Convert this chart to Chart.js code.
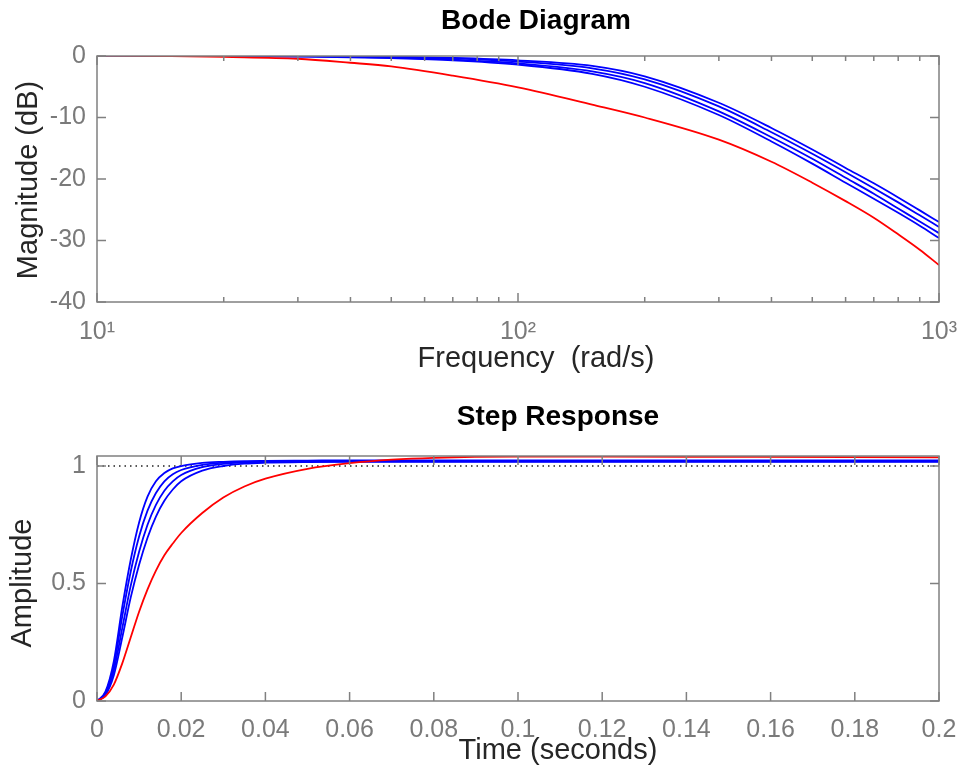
<!DOCTYPE html>
<html>
<head>
<meta charset="utf-8">
<script src="https://cdn.jsdelivr.net/npm/chart.js@4.4.1/dist/chart.umd.min.js"></script>
<style>
body { margin: 0; background: #fff; }
canvas { display: block; }
</style>
</head>
<body>
<canvas id="bodeChart" width="962" height="385"></canvas>
<canvas id="stepChart" width="962" height="385"></canvas>
<script>
'use strict';

// Bode magnitude (dB)
const freq = [10, 15, 20, 30, 40, 50, 70, 100, 150, 200, 300, 400, 500, 600, 700, 800, 900, 1000];
const magRed = [0.05, 0.0, -0.15, -0.45, -1.1, -1.7, -3.2, -5.1, -7.9, -10.0, -13.6, -17.2, -20.6, -23.6, -26.3, -29.0, -31.5, -34.0];
const magBlue1 = [0.1, 0.08, 0.05, 0.02, -0.03, -0.1, -0.3, -0.7, -1.6, -3.3, -7.6, -11.7, -15.2, -18.2, -20.7, -23.0, -25.1, -27.0];
const magBlue2 = [0.1, 0.07, 0.04, 0.0, -0.08, -0.18, -0.42, -0.9, -2.0, -3.8, -8.2, -12.4, -15.9, -18.9, -21.5, -23.8, -25.9, -27.8];
const magBlue3 = [0.1, 0.06, 0.02, -0.06, -0.15, -0.28, -0.58, -1.2, -2.5, -4.4, -9.0, -13.2, -16.7, -19.8, -22.4, -24.8, -26.9, -28.8];
const magBlue4 = [0.1, 0.05, 0.0, -0.1, -0.2, -0.35, -0.7, -1.4, -2.9, -5.0, -9.6, -13.9, -17.5, -20.6, -23.2, -25.5, -27.6, -29.6];
const freqDecades = [10, 100, 1000];
const freqDecadeLabels = ['10\u00B9', '10\u00B2', '10\u00B3'];
const freqMinor = [20, 30, 40, 50, 60, 70, 80, 90, 200, 300, 400, 500, 600, 700, 800, 900];
const magTicks = [-40, -30, -20, -10, 0];

// Step response
const time = [0, 0.002, 0.004, 0.006, 0.008, 0.01, 0.012, 0.014, 0.016, 0.018, 0.02, 0.025, 0.03, 0.035, 0.04, 0.05, 0.06, 0.07, 0.08, 0.1, 0.12, 0.15, 0.2];
const stepRed = [0, 0.02, 0.07, 0.16, 0.27, 0.38, 0.475, 0.555, 0.62, 0.67, 0.715, 0.80, 0.866, 0.913, 0.946, 0.988, 1.012, 1.027, 1.035, 1.04, 1.04, 1.039, 1.037];
const stepBlue1 = [0, 0.04, 0.17, 0.40, 0.60, 0.76, 0.87, 0.935, 0.97, 0.99, 1.0, 1.013, 1.018, 1.021, 1.022, 1.023, 1.024, 1.024, 1.024, 1.024, 1.024, 1.024, 1.024];
const stepBlue2 = [0, 0.035, 0.15, 0.36, 0.55, 0.70, 0.81, 0.885, 0.935, 0.965, 0.983, 1.005, 1.014, 1.018, 1.02, 1.021, 1.022, 1.022, 1.022, 1.022, 1.022, 1.022, 1.022];
const stepBlue3 = [0, 0.03, 0.13, 0.31, 0.49, 0.635, 0.75, 0.835, 0.895, 0.935, 0.962, 0.995, 1.009, 1.015, 1.018, 1.02, 1.02, 1.02, 1.02, 1.02, 1.02, 1.02, 1.02];
const stepBlue4 = [0, 0.025, 0.11, 0.27, 0.44, 0.58, 0.695, 0.785, 0.852, 0.90, 0.935, 0.98, 1.0, 1.01, 1.014, 1.017, 1.018, 1.018, 1.018, 1.018, 1.018, 1.018, 1.018];
const finalValue = [1, 1];
const finalTime = [0, 0.2];
const ampTicks = [0, 0.5, 1];

const axisColor = '#808080';
const tickColor = '#7a7a7a';
const labelColor = '#262626';
const fontFamily = '"Liberation Sans", Arial, sans-serif';

const pts = (xs, ys) => xs.map((x, i) => ({ x: x, y: ys[i] }));

const curve = (data, color) => ({
    data: data,
    borderColor: color,
    borderWidth: 1.8,
    pointRadius: 0,
    cubicInterpolationMode: 'monotone',
    fill: false
});

// box, inward ticks on all sides, titles (MATLAB look)
const matlabAxes = {
    id: 'matlabAxes',
    afterDatasetsDraw(chart, args, opts) {
        const { ctx, chartArea: a } = chart;
        const xs = chart.scales.x;
        const ys = chart.scales.y;
        ctx.save();
        ctx.strokeStyle = axisColor;
        ctx.lineWidth = 1.5;
        ctx.beginPath();
        xs.ticks.forEach(t => {
            const px = xs.getPixelForValue(t.value);
            const len = t.label === '' ? 5 : 9;
            ctx.moveTo(px, a.bottom); ctx.lineTo(px, a.bottom - len);
            ctx.moveTo(px, a.top); ctx.lineTo(px, a.top + len);
        });
        ys.ticks.forEach(t => {
            const py = ys.getPixelForValue(t.value);
            ctx.moveTo(a.left, py); ctx.lineTo(a.left + 9, py);
            ctx.moveTo(a.right, py); ctx.lineTo(a.right - 9, py);
        });
        ctx.stroke();
        ctx.strokeRect(a.left, a.top, a.right - a.left, a.bottom - a.top);
        ctx.restore();
    },
    afterDraw(chart, args, opts) {
        const ctx = chart.ctx;
        ctx.save();
        ctx.textAlign = 'center';
        ctx.textBaseline = 'alphabetic';
        ctx.fillStyle = '#000';
        ctx.font = 'bold 28px ' + fontFamily;
        ctx.fillText(opts.title, opts.cx, opts.titleY);
        ctx.fillStyle = labelColor;
        ctx.font = '29px ' + fontFamily;
        ctx.fillText(opts.xLabel, opts.cx, opts.xLabelY);
        ctx.translate(opts.yLabelX, opts.yLabelY);
        ctx.rotate(-Math.PI / 2);
        ctx.textBaseline = 'middle';
        ctx.fillText(opts.yLabel, 0, 0);
        ctx.restore();
    }
};

const tickFont = { family: fontFamily, size: 25 };

const xFit = h => s => { s.height = h; s.paddingLeft = 0; s.paddingRight = 0; };
const yFit = s => { s.width = 97; s.paddingTop = 0; s.paddingBottom = 0; };

const bodeChart = new Chart(document.getElementById('bodeChart').getContext('2d'), {
    type: 'line',
    data: {
        datasets: [
            curve(pts(freq, magRed), '#ff0000'),
            curve(pts(freq, magBlue1), '#0000ff'),
            curve(pts(freq, magBlue2), '#0000ff'),
            curve(pts(freq, magBlue3), '#0000ff'),
            curve(pts(freq, magBlue4), '#0000ff')
        ]
    },
    options: {
        responsive: false,
        animation: false,
        layout: { padding: { left: 0, right: 23, top: 56, bottom: 0 } },
        plugins: {
            legend: { display: false },
            tooltip: { enabled: false },
            matlabAxes: {
                title: 'Bode Diagram', xLabel: 'Frequency  (rad/s)', yLabel: 'Magnitude (dB)',
                cx: 536, titleY: 29, xLabelY: 367, yLabelX: 29, yLabelY: 180
            }
        },
        scales: {
            x: {
                type: 'logarithmic', min: 10, max: 1000,
                grid: { display: false, drawTicks: false }, border: { display: false },
                afterBuildTicks: s => { s.ticks = freqDecades.concat(freqMinor).sort((p, q) => p - q).map(v => ({ value: v })); },
                afterFit: xFit(83),
                ticks: {
                    autoSkip: false, maxRotation: 0, padding: 15, color: tickColor, font: tickFont,
                    callback: v => { const i = freqDecades.indexOf(v); return i >= 0 ? freqDecadeLabels[i] : ''; }
                }
            },
            y: {
                min: -40, max: 0,
                grid: { display: false, drawTicks: false }, border: { display: false },
                afterBuildTicks: s => { s.ticks = magTicks.map(v => ({ value: v })); },
                afterFit: yFit,
                ticks: { padding: 11, color: tickColor, font: tickFont, callback: v => String(v) }
            }
        }
    },
    plugins: [matlabAxes]
});

const stepChart = new Chart(document.getElementById('stepChart').getContext('2d'), {
    type: 'line',
    data: {
        datasets: [
            curve(pts(time, stepRed), '#ff0000'),
            curve(pts(time, stepBlue1), '#0000ff'),
            curve(pts(time, stepBlue2), '#0000ff'),
            curve(pts(time, stepBlue3), '#0000ff'),
            curve(pts(time, stepBlue4), '#0000ff'),
            Object.assign(curve(pts(finalTime, finalValue), '#222'), { borderWidth: 1.5, borderDash: [1.5, 4] })
        ]
    },
    options: {
        responsive: false,
        animation: false,
        layout: { padding: { left: 0, right: 23, top: 71, bottom: 0 } },
        plugins: {
            legend: { display: false },
            tooltip: { enabled: false },
            matlabAxes: {
                title: 'Step Response', xLabel: 'Time (seconds)', yLabel: 'Amplitude',
                cx: 558, titleY: 40, xLabelY: 374, yLabelX: 23, yLabelY: 198
            }
        },
        scales: {
            x: {
                type: 'linear', min: 0, max: 0.2,
                grid: { display: false, drawTicks: false }, border: { display: false },
                afterFit: xFit(69),
                ticks: {
                    stepSize: 0.02, autoSkip: false, maxRotation: 0, padding: 14, color: tickColor, font: tickFont,
                    callback: v => String(Number(v.toFixed(2)))
                }
            },
            y: {
                min: 0, max: 1.0426,
                grid: { display: false, drawTicks: false }, border: { display: false },
                afterBuildTicks: s => { s.ticks = ampTicks.map(v => ({ value: v })); },
                afterFit: yFit,
                ticks: { padding: 11, color: tickColor, font: tickFont, callback: v => String(v) }
            }
        }
    },
    plugins: [matlabAxes]
});
</script>
</body>
</html>
